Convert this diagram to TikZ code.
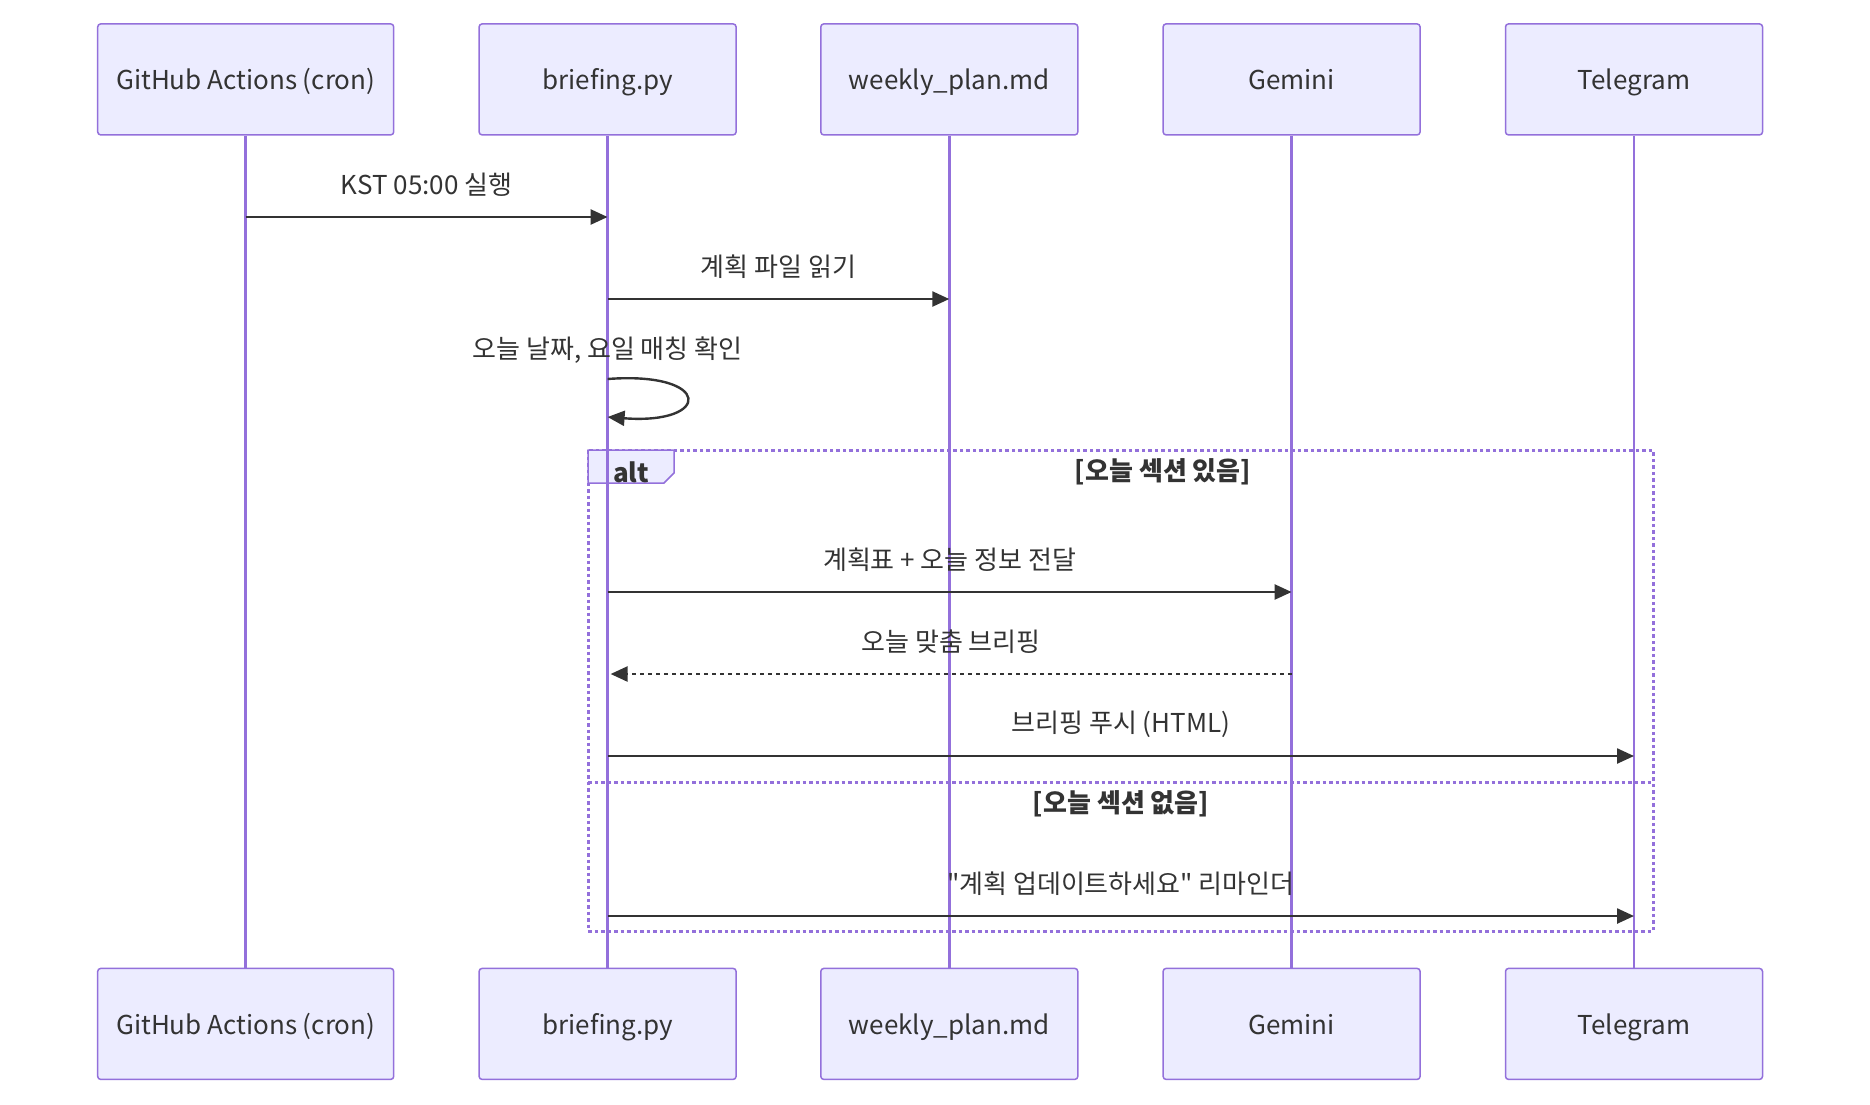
\documentclass[tikz,border=0pt]{standalone}
\usepackage{fontspec}
\setmainfont{Noto Sans CJK KR}
\usepackage{tikz}
\usetikzlibrary{positioning}
\usetikzlibrary{arrows.meta}
\usetikzlibrary{calc}
\definecolor{actorfill}{HTML}{ECECFF}
\definecolor{actorline}{HTML}{9370DB}
\definecolor{inkgray}{HTML}{333333}

\begin{document}
\begin{tikzpicture}[x=1pt, y=-1pt,
	actor/.style={draw=actorline, fill=actorfill, line width=1.5pt, rounded corners=3pt, minimum width=257pt, minimum height=111pt, text=inkgray, text height=21pt, text depth=0pt, font=\fontsize{26}{30}\selectfont},
	life/.style={draw=actorline, line width=2.8pt},
	msg/.style={draw=inkgray, line width=2.4pt, -{Triangle[length=17pt, width=15pt]}},
	reply/.style={msg, dash pattern=on 4pt off 4pt},
	lbl/.style={text=inkgray, font=\fontsize{26}{30}\selectfont, yshift=32pt},
	frame/.style={draw=actorline, line width=3pt, dash pattern=on 3.5pt off 3pt},
	cond/.style={text=inkgray, font=\fontsize{26}{30}\selectfont\bfseries}]
			\useasboundingbox (0,0) rectangle (1870,1104);
			% participants, top row
			\node[actor, minimum width=296pt] (gha) at (245.7,79.4) {GitHub Actions (cron)};
			\node[actor] (brief) at (607.6,79.4) {briefing.py};
			\node[actor] (plan) at (949.3,79.4) {weekly\_plan.md};
			\node[actor] (gem) at (1291.6,79.4) {Gemini};
			\node[actor] (tg) at (1634,79.4) {Telegram};

			% participants, bottom row
			\node[actor, minimum width=296pt, below=832pt of gha] (ghaB) {GitHub Actions (cron)};
			\node[actor, below=832pt of brief] (briefB) {briefing.py};
			\node[actor, below=832pt of plan] (planB) {weekly\_plan.md};
			\node[actor, below=832pt of gem] (gemB) {Gemini};
			\node[actor, below=832pt of tg] (tgB) {Telegram};

			% alt frame
			\draw[frame] (588,450) rectangle (1653,931);
			\draw[frame] (588,782) -- (1653,782);
			\draw[draw=actorline, fill=actorfill, line width=1.5pt] (588,450) -- (674,450) -- (674,473) -- (664,483) -- (588,483) -- cycle;
			\node[cond] (altname) at (631,472) {alt};
			\node[cond] (altyes) at (1163,472) {[오늘 섹션 있음]};
			\node[cond] (altno) at (1121,804) {[오늘 섹션 없음]};

			% lifelines
			\foreach \p in {gha, brief, plan, gem, tg}
				\draw[life] (\p.south) -- (\p B.north);

			% message rows
			\coordinate (r1) at (0,217);
			\coordinate (r2) at (0,299);
			\coordinate (r3a) at (0,379);
			\coordinate (r3b) at (0,417);
			\coordinate (r4) at (0,592);
			\coordinate (r5) at (0,674);
			\coordinate (r6) at (0,756);
			\coordinate (r7) at (0,916);

			\draw[msg] (gha |- r1) -- node[lbl] (m1) {KST 05:00 실행} (brief |- r1);
			\draw[msg] (brief |- r2) -- node[lbl] (m2) {계획 파일 읽기} (plan |- r2);
			\node[lbl, yshift=-32pt] (m3) at (607.6,350) {오늘 날짜, 요일 매칭 확인};
			\draw[msg] (brief |- r3a) .. controls ($(brief |- r3a)+(105,-8)$) and ($(brief |- r3b)+(105,8)$) .. (brief |- r3b);
			\draw[msg] (brief |- r4) -- node[lbl] (m4) {계획표 + 오늘 정보 전달} (gem |- r4);
			\draw[reply] (gem |- r5) -- node[lbl] (m5) {오늘 맞춤 브리핑} ($(brief |- r5)+(3,0)$);
			\draw[msg] (brief |- r6) -- node[lbl] (m6) {브리핑 푸시 (HTML)} (tg |- r6);
			\draw[msg] (brief |- r7) -- node[lbl] (m7) {\textquotedbl 계획 업데이트하세요\textquotedbl{} 리마인더} (tg |- r7);
		\end{tikzpicture}
\end{document}
